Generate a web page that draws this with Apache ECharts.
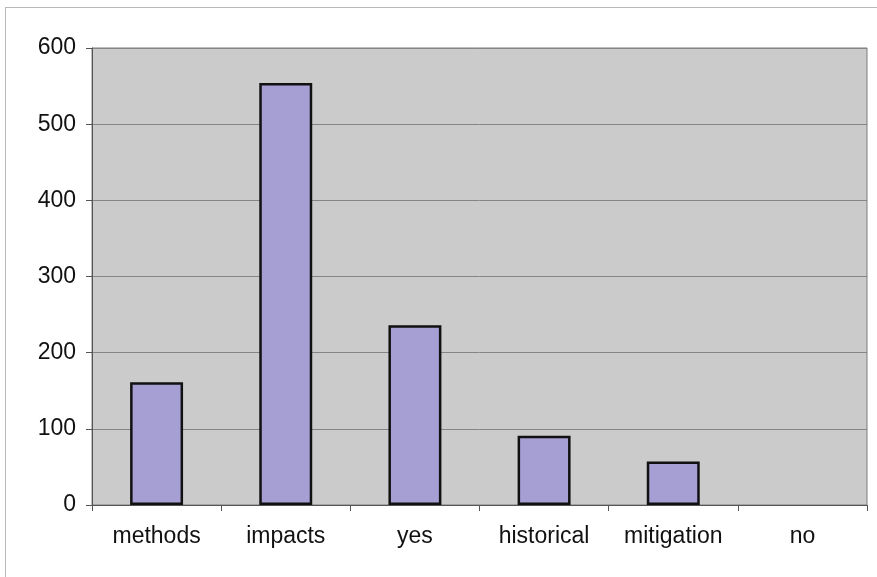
<!DOCTYPE html>
<html>
<head>
<meta charset="utf-8">
<script src="https://cdn.jsdelivr.net/npm/echarts@6/dist/echarts.min.js"></script>
<style>
  html, body { margin: 0; padding: 0; background: #ffffff; }
  #frame { position: absolute; left: 5px; top: 7px; width: 880px; height: 580px; border: 1px solid #b8b8b8; box-sizing: border-box; }
  #chart { position: absolute; left: 0; top: 0; width: 877px; height: 577px; }
</style>
</head>
<body>
<div id="frame"></div>
<div id="chart"></div>
<script>
// Category names along the x axis
const categories = ['methods', 'impacts', 'yes', 'historical', 'mitigation', 'no'];
// Count per category
const counts = [161, 554, 236, 91, 57, 0];
// Value axis ticks
const yTicks = [0, 100, 200, 300, 400, 500, 600];

const chart = echarts.init(document.getElementById('chart'), null, { renderer: 'canvas' });

// Empty categories get no outline, so nothing shows for a zero count
const barData = counts.map(v => v === 0
  ? { value: v, itemStyle: { borderWidth: 0 } }
  : v);

chart.setOption({
  animation: false,
  grid: {
    left: 92, right: 10, top: 48, bottom: 72,
    show: true,
    backgroundColor: '#cbcbcb',
    borderColor: '#7a7a7a',
    borderWidth: 1
  },
  xAxis: {
    type: 'category',
    data: categories,
    axisLine: { lineStyle: { color: '#555555', width: 1 } },
    axisTick: { show: true, interval: 0, length: 6, lineStyle: { color: '#555555' } },
    axisLabel: {
      interval: 0,
      hideOverlap: false,
      color: '#111111',
      fontFamily: 'Liberation Sans, Arial, sans-serif',
      fontSize: 23,
      margin: 20
    }
  },
  yAxis: {
    type: 'value',
    min: yTicks[0],
    max: yTicks[yTicks.length - 1],
    interval: 100,
    axisLine: { show: true, lineStyle: { color: '#555555', width: 1 } },
    axisTick: { show: true, length: 6, lineStyle: { color: '#555555' } },
    splitLine: { show: true, lineStyle: { color: '#858585', width: 1 } },
    axisLabel: {
      color: '#111111',
      fontFamily: 'Liberation Sans, Arial, sans-serif',
      fontSize: 23,
      margin: 16
    }
  },
  series: [{
    type: 'bar',
    data: barData,
    barWidth: '41%',
    itemStyle: {
      color: '#a69fd4',
      borderColor: '#111111',
      borderWidth: 2.5
    }
  }]
});
</script>
</body>
</html>
